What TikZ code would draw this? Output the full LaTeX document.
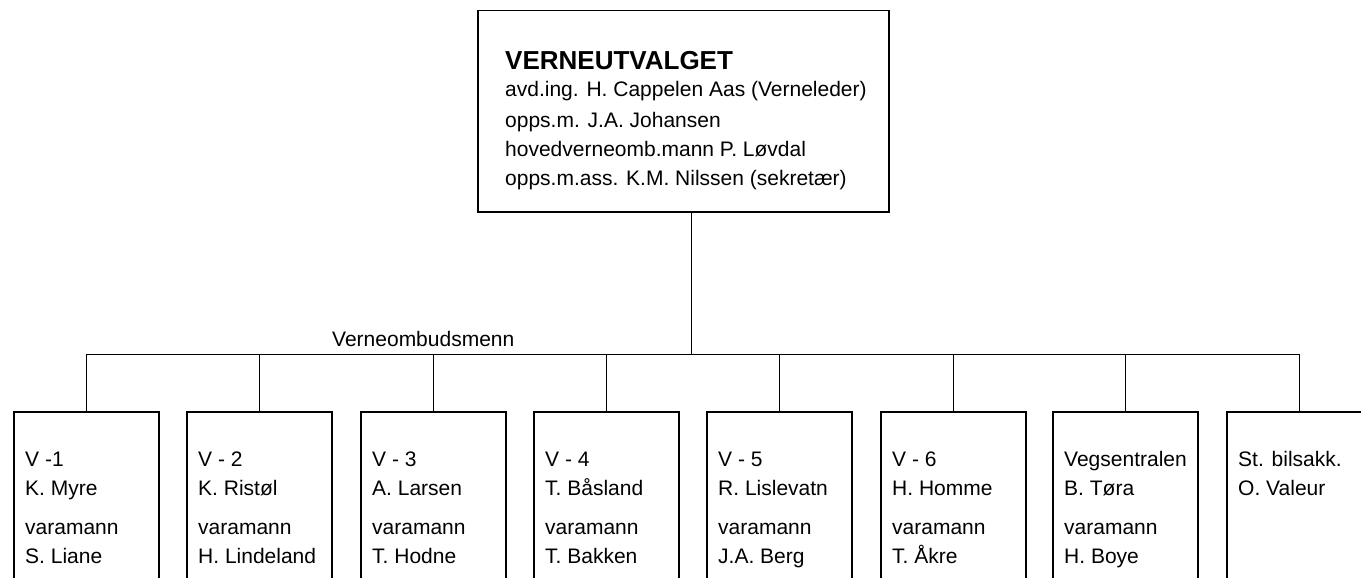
\documentclass[tikz,border=0pt]{standalone}
\usepackage{fontspec}
\setmainfont{Liberation Sans}

\begin{document}
\begin{tikzpicture}[x=1pt, y=-1pt, line join=miter,
  font=\fontsize{21}{29}\selectfont,
  box/.style={draw, line width=1.5pt, inner sep=0pt, anchor=north west},
  member/.style={box, minimum width=145pt, minimum height=190pt},
  txt/.style={align=left, anchor=base west, inner sep=0pt},
  link/.style={line width=1pt}]
  \useasboundingbox (0,0) rectangle (1361,578);
  \clip (0,0) rectangle (1361,578);

  \node[box, minimum width=411pt, minimum height=201pt] (top) at (477,10) {};
  \node[txt] (topt) at (505,185) {{\fontsize{26}{29}\selectfont\bfseries VERNEUTVALGET}\\[-2pt]
    avd.ing. H. Cappelen Aas (Verneleder)\\[2pt]
    opps.m. J.A. Johansen\\
    hovedverneomb.mann P. Løvdal\\
    opps.m.ass. K.M. Nilssen (sekretær)};

  \node[member] (v1) at (13,411) {};
  \node[member] (v2) at (186,411) {};
  \node[member] (v3) at (360,411) {};
  \node[member] (v4) at (533,411) {};
  \node[member] (v5) at (706,411) {};
  \node[member] (v6) at (880,411) {};
  \node[member] (v7) at (1052,411) {};
  \node[member] (v8) at (1226,411) {};

  \coordinate (bus) at (691,354);
  \draw[link] (top.south -| bus) -- (bus);
  \draw[link] (v1.north |- bus) -- (v8.north |- bus);
  \foreach \i in {1,...,8}
    \draw[link] (v\i.north |- bus) -- (v\i.north);

  \node[txt] (lbl) at (332,346) {Verneombudsmenn};

  \node[txt] (v1t) at (25,563) {V -1\\ K. Myre\\[10pt] varamann\\ S. Liane};
  \node[txt] (v2t) at (198,563) {V - 2\\ K. Ristøl\\[10pt] varamann\\ H. Lindeland};
  \node[txt] (v3t) at (372,563) {V - 3\\ A. Larsen\\[10pt] varamann\\ T. Hodne};
  \node[txt] (v4t) at (545,563) {V - 4\\ T. Båsland\\[10pt] varamann\\ T. Bakken};
  \node[txt] (v5t) at (718,563) {V - 5\\ R. Lislevatn\\[10pt] varamann\\ J.A. Berg};
  \node[txt] (v6t) at (892,563) {V - 6\\ H. Homme\\[10pt] varamann\\ T. Åkre};
  \node[txt] (v7t) at (1064,563) {Vegsentralen\\ B. Tøra\\[10pt] varamann\\ H. Boye};
  \node[txt] (v8t) at (1238,495) {St. bilsakk.\\ O. Valeur};
\end{tikzpicture}
\end{document}
